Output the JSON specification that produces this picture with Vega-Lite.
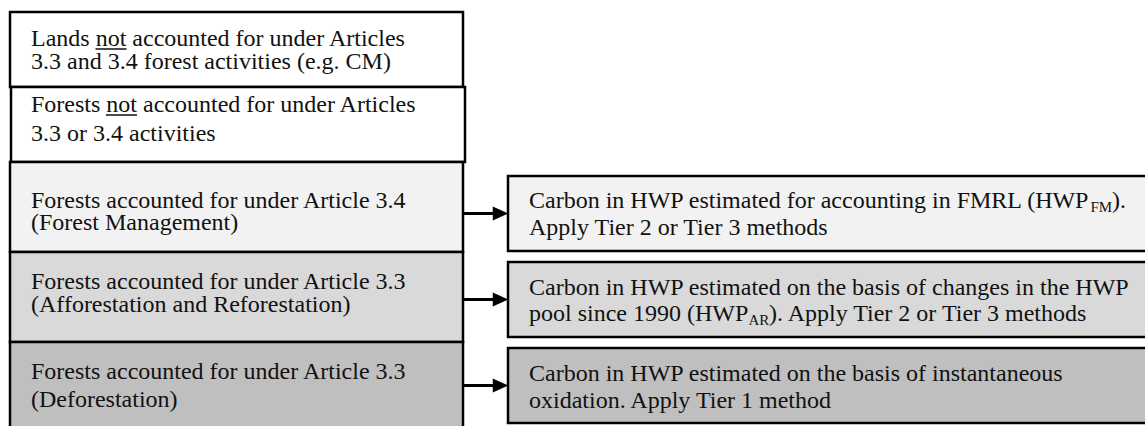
{
  "$schema": "https://vega.github.io/schema/vega-lite/v6.json",
  "width": 1145,
  "height": 426,
  "autosize": {"type": "fit", "contains": "padding"},
  "padding": 0,
  "background": "white",
  "config": {"view": {"stroke": null}},
  "datasets": {
    "boxes": [
      {"id": "L1", "x": 10, "x2": 463, "y": 12, "y2": 87, "shade": "white"},
      {"id": "L2", "x": 11, "x2": 465, "y": 87, "y2": 162, "shade": "white"},
      {"id": "L3", "x": 10, "x2": 463, "y": 162, "y2": 252, "shade": "light"},
      {"id": "L4", "x": 10, "x2": 463, "y": 252, "y2": 342, "shade": "medium"},
      {"id": "L5", "x": 10, "x2": 463, "y": 342, "y2": 440, "shade": "dark"},
      {"id": "R1", "x": 508, "x2": 1160, "y": 176, "y2": 251, "shade": "light"},
      {"id": "R2", "x": 508, "x2": 1160, "y": 262, "y2": 337, "shade": "medium"},
      {"id": "R3", "x": 508, "x2": 1160, "y": 348, "y2": 423, "shade": "dark"}
    ],
    "arrows": [
      {"from": "L3", "to": "R1", "x": 463, "x2": 496, "y": 213.5, "tip": 500.5},
      {"from": "L4", "to": "R2", "x": 463, "x2": 496, "y": 299.5, "tip": 500.5},
      {"from": "L5", "to": "R3", "x": 463, "x2": 496, "y": 385.5, "tip": 500.5}
    ],
    "underlines": [
      {"word": "not", "x": 95.5, "x2": 126.5, "y": 49},
      {"word": "not", "x": 106, "x2": 137, "y": 115}
    ],
    "labels": [
      {"x": 31, "y": 46, "text": "Lands not accounted for under Articles"},
      {"x": 31, "y": 69, "text": "3.3 and 3.4 forest activities (e.g. CM)"},
      {"x": 31, "y": 112, "text": "Forests not accounted for under Articles"},
      {"x": 31, "y": 141, "text": "3.3 or 3.4 activities"},
      {"x": 31, "y": 208, "text": "Forests accounted for under Article 3.4"},
      {"x": 31, "y": 230, "text": "(Forest Management)"},
      {"x": 31, "y": 289, "text": "Forests accounted for under Article 3.3"},
      {"x": 31, "y": 312, "text": "(Afforestation and Reforestation)"},
      {"x": 31, "y": 379, "text": "Forests accounted for under Article 3.3"},
      {"x": 31, "y": 407, "text": "(Deforestation)"},
      {"x": 529, "y": 208, "text": "Carbon in HWP estimated for accounting in FMRL (HWP"},
      {"x": 1112, "y": 208, "text": ")."},
      {"x": 529, "y": 235, "text": "Apply Tier 2 or Tier 3 methods"},
      {"x": 529, "y": 295, "text": "Carbon in HWP estimated on the basis of changes in the HWP"},
      {"x": 529, "y": 321, "text": "pool since 1990 (HWP"},
      {"x": 769, "y": 321, "text": "). Apply Tier 2 or Tier 3 methods"},
      {"x": 529, "y": 381, "text": "Carbon in HWP estimated on the basis of instantaneous"},
      {"x": 529, "y": 408, "text": "oxidation. Apply Tier 1 method"}
    ],
    "subscripts": [
      {"x": 1090.5, "y": 212, "text": "FM"},
      {"x": 748.5, "y": 325, "text": "AR"}
    ]
  },
  "layer": [
    {
      "data": {"name": "boxes"},
      "mark": {"type": "rect", "stroke": "#000000", "strokeWidth": 2.5, "clip": true},
      "encoding": {
        "x": {"field": "x", "type": "quantitative", "scale": {"domain": [0, 1145], "nice": false, "zero": false}, "axis": null},
        "x2": {"field": "x2"},
        "y": {"field": "y", "type": "quantitative", "scale": {"domain": [0, 426], "nice": false, "zero": false, "reverse": true}, "axis": null},
        "y2": {"field": "y2"},
        "fill": {"field": "shade", "type": "nominal", "scale": {"domain": ["white", "light", "medium", "dark"], "range": ["#ffffff", "#f2f2f2", "#d9d9d9", "#bfbfbf"]}, "legend": null}
      }
    },
    {
      "data": {"name": "arrows"},
      "mark": {"type": "rule", "color": "#000000", "strokeWidth": 3, "clip": true},
      "encoding": {
        "x": {"field": "x", "type": "quantitative"},
        "x2": {"field": "x2"},
        "y": {"field": "y", "type": "quantitative"}
      }
    },
    {
      "data": {"name": "arrows"},
      "mark": {"type": "point", "shape": "M1,0L-1,-0.9L-1,0.9Z", "size": 240, "filled": true, "color": "#000000", "opacity": 1, "strokeWidth": 0, "clip": true},
      "encoding": {
        "x": {"field": "tip", "type": "quantitative"},
        "y": {"field": "y", "type": "quantitative"}
      }
    },
    {
      "data": {"name": "underlines"},
      "mark": {"type": "rule", "color": "#111111", "strokeWidth": 1.5, "clip": true},
      "encoding": {
        "x": {"field": "x", "type": "quantitative"},
        "x2": {"field": "x2"},
        "y": {"field": "y", "type": "quantitative"}
      }
    },
    {
      "data": {"name": "labels"},
      "mark": {"type": "text", "align": "left", "baseline": "alphabetic", "font": "Liberation Serif", "fontSize": 24, "color": "#111111", "clip": true},
      "encoding": {
        "x": {"field": "x", "type": "quantitative"},
        "y": {"field": "y", "type": "quantitative"},
        "text": {"field": "text", "type": "nominal"}
      }
    },
    {
      "data": {"name": "subscripts"},
      "mark": {"type": "text", "align": "left", "baseline": "alphabetic", "font": "Liberation Serif", "fontSize": 15, "color": "#111111", "clip": true},
      "encoding": {
        "x": {"field": "x", "type": "quantitative"},
        "y": {"field": "y", "type": "quantitative"},
        "text": {"field": "text", "type": "nominal"}
      }
    }
  ]
}
